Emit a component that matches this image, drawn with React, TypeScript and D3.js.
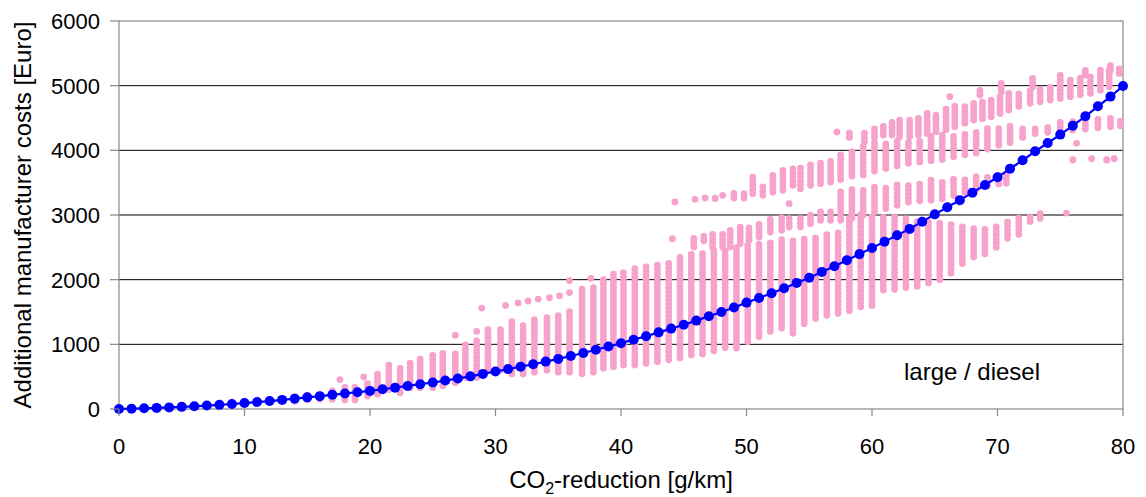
import * as d3 from 'd3';

// CO2 reduction [g/km] vs additional manufacturer costs [Euro], large / diesel
const X_TICKS = [0, 10, 20, 30, 40, 50, 60, 70, 80];
const Y_TICKS = [0, 1000, 2000, 3000, 4000, 5000, 6000];

// blue cost curve, one value per g/km from 0 to 80
const CURVE_COST = [
  0, 5, 11, 17, 25, 33, 42, 53, 64, 77,
  92, 107, 123, 141, 160, 180, 199, 219, 240, 260,
  280, 305, 330, 357, 384, 410, 440, 472, 505, 543,
  580, 617, 655, 692, 733, 775, 820, 866, 916, 966,
  1018, 1072, 1126, 1185, 1243, 1302, 1367, 1433, 1500, 1570,
  1645, 1717, 1790, 1868, 1950, 2030, 2120, 2208, 2300, 2395,
  2490, 2588, 2686, 2785, 2897, 3010, 3119, 3230, 3346, 3464,
  3583, 3717, 3846, 3985, 4113, 4243, 4382, 4526, 4681, 4831,
  4995,
];
const CURVE_REDUCTION = CURVE_COST.map((_, i) => i);

// pink cloud of single packages, read as vertical streaks: [reduction, low cost, high cost]
const STREAKS_LOW = [
  [14, 120, 200], [15, 140, 230], [16, 150, 260], [17, 150, 290], [17.6, 455, 455],
  [18, 140, 340], [18.8, 140, 370], [19.5, 495, 495], [19.8, 200, 400], [20.6, 230, 540],
  [21.5, 300, 690], [22.4, 250, 680], [23.2, 330, 730], [24, 330, 780], [25, 330, 830],
  [25.8, 360, 860], [26.8, 410, 885], [26.8, 1140, 1140], [27.6, 490, 1015], [28.5, 490, 1070],
  [28.5, 1200, 1200], [28.9, 1560, 1560], [29.4, 600, 1250], [30.4, 600, 1280], [30.8, 1600, 1600],
  [31.3, 540, 1380], [31.8, 1640, 1640], [32.2, 540, 1330], [32.6, 1670, 1670], [33.1, 570, 1430],
  [33.4, 1700, 1700], [34.1, 600, 1460], [34.3, 1720, 1720], [35, 570, 1490], [35.1, 1750, 1750],
  [35.9, 570, 1540], [35.9, 1800, 1800], [35.9, 1985, 1985], [36.9, 545, 1900], [37.8, 570, 1910],
  [37.6, 2020, 2020],
];

const STREAKS_DENSE = [
  [38.6, 630, 2050], [39.4, 655, 2110], [40.2, 680, 2150], [41.1, 680, 2180], [42.0, 706, 2220],
  [42.9, 732, 2260], [43.8, 760, 2300], [44.7, 790, 2350], [45.6, 835, 2390], [46.5, 850, 2430],
  [47.4, 900, 2450], [48.3, 950, 2480], [49.2, 940, 2510], [50.1, 1040, 2550], [51.0, 1120, 2580],
  [51.9, 1200, 2610], [52.8, 1250, 2630], [53.7, 1170, 2650], [54.6, 1320, 2670], [55.5, 1400, 2690],
  [56.4, 1450, 2710], [57.3, 1480, 2730],
  [58.2, 1520, 3000], [59.1, 1580, 3020], [60.0, 1600, 3000], [60.9, 1840, 2990], [61.8, 1850, 2980],
  [62.7, 1880, 2970], [63.6, 1900, 2950], [64.5, 1950, 2930], [65.4, 2000, 2900], [66.3, 2100, 2880],
  [67.2, 2250, 2850], [68.1, 2350, 2800], [69.0, 2400, 2800], [69.9, 2500, 2850], [70.8, 2640, 2900],
  [71.7, 2700, 2950], [72.6, 2900, 3000], [73.4, 2950, 3050], [75.5, 3030, 3030],
];

const STREAKS_MID = [
  [44.1, 2634, 2634], [45.8, 2505, 2660], [46.6, 2600, 2711], [47.3, 2505, 2737], [48.1, 2505, 2737],
  [48.7, 2505, 2814], [49.5, 2557, 2840], [50.2, 2608, 2840], [51.0, 2660, 2866], [51.9, 2737, 2943],
  [52.8, 2763, 2969], [53.4, 2814, 2969], [53.4, 3175, 3175], [54.3, 2814, 2995], [55.1, 2866, 3021],
  [55.9, 2918, 3046], [56.7, 2918, 3072], [57.5, 2918, 3390], [58.4, 2950, 3400], [59.3, 3000, 3430],
  [60.2, 3050, 3450], [61.1, 3100, 3470], [62.0, 3150, 3490], [62.9, 3200, 3500], [63.8, 3220, 3520],
  [64.7, 3230, 3540], [65.6, 3250, 3550], [66.5, 3300, 3570], [67.4, 3350, 3590], [68.3, 3400, 3600],
  [69.2, 3450, 3620], [70.1, 3480, 3640], [70.7, 3490, 3650],
];

const STREAKS_UPPER = [
  [44.3, 3201, 3201], [45.9, 3242, 3242], [46.7, 3263, 3263], [47.5, 3253, 3290], [48.1, 3304, 3304],
  [49.0, 3263, 3381], [49.8, 3263, 3330], [50.5, 3330, 3598], [51.3, 3304, 3459], [52.1, 3356, 3665],
  [52.9, 3381, 3691], [53.7, 3459, 3768], [54.3, 3407, 3768], [55.1, 3459, 3820], [55.9, 3484, 3845],
  [56.7, 3510, 3871], [57.5, 3550, 3950], [58.4, 3600, 4030], [59.3, 3620, 4100], [60.2, 3680, 4120],
  [61.1, 3720, 4140], [62.0, 3760, 4150], [62.9, 3800, 4160], [63.8, 3820, 4190], [64.7, 3840, 4220],
  [65.6, 3860, 4240], [66.5, 3900, 4270], [67.4, 3930, 4300], [68.3, 3960, 4320], [69.2, 4020, 4350],
  [70.1, 4080, 4380], [71.0, 4120, 4390], [72.0, 4200, 4380], [73.0, 4260, 4370], [74.0, 4280, 4400],
  [75.0, 4300, 4430], [76.0, 4314, 4443], [77.0, 4330, 4460], [78.0, 4350, 4480], [79.0, 4366, 4495],
  [79.8, 4380, 4500],
  [76.0, 3850, 3900], [76.3, 4108, 4108], [77.5, 3870, 3870], [78.7, 3850, 3900], [79.3, 3870, 3870],
];

const STREAKS_TOP = [
  [57.2, 4283, 4283], [58.2, 4200, 4290], [59.4, 4134, 4314], [60.2, 4200, 4340], [60.9, 4237, 4392],
  [61.6, 4237, 4443], [62.2, 4211, 4469], [63.0, 4211, 4520], [63.7, 4237, 4546], [64.4, 4260, 4570],
  [65.1, 4289, 4598], [65.9, 4320, 4640], [66.6, 4366, 4690], [66.2, 4830, 4830], [67.4, 4420, 4700],
  [68.1, 4469, 4727], [68.6, 4856, 4930], [68.8, 4490, 4770], [69.5, 4521, 4804], [70.2, 4570, 4840],
  [70.3, 4907, 5036], [70.9, 4624, 4881], [71.7, 4680, 4910], [72.6, 4727, 4933], [72.8, 4985, 5113],
  [73.4, 4750, 4970], [74.2, 4778, 5010], [75.0, 4800, 5060], [75.0, 5088, 5190], [75.8, 4830, 5113],
  [76.6, 4860, 5150], [77.0, 5165, 5242], [77.4, 4881, 5190], [78.2, 4930, 5240], [78.9, 4985, 5294],
  [79.0, 5240, 5320], [79.7, 5190, 5294],
];

const PINK = '#f6a2cc';
const BLUE = '#0000ff';
const AXIS_GREY = '#888888';
const FONT = '"Liberation Sans", Arial, Helvetica, sans-serif';

export default function App() {
  const width = 1146;
  const height = 497;
  const margin = { top: 21, right: 23, bottom: 88, left: 119 };
  const innerWidth = width - margin.left - margin.right;
  const innerHeight = height - margin.top - margin.bottom;

  const x = d3.scaleLinear().domain([0, 80]).range([0, innerWidth]);
  const y = d3.scaleLinear().domain([0, 6000]).range([innerHeight, 0]);

  const streaks = [
    ...STREAKS_LOW, ...STREAKS_DENSE, ...STREAKS_MID, ...STREAKS_UPPER, ...STREAKS_TOP,
  ];

  const line = d3.line<number>()
    .x((_, i) => x(CURVE_REDUCTION[i]))
    .y(d => y(d));

  return (
    <svg width={width} height={height}
      style={{ position: 'absolute', left: 0, top: 0, background: '#fff' }}
      fontFamily={FONT}>
      <g transform={`translate(${margin.left},${margin.top})`}>
        {Y_TICKS.filter(t => t > 0 && t < 6000).map(t => (
          <line key={t} x1={0} x2={innerWidth} y1={y(t)} y2={y(t)} stroke="#000" strokeWidth={1} />
        ))}
        <rect x={0} y={0} width={innerWidth} height={innerHeight} fill="none" stroke={AXIS_GREY} strokeWidth={1.2} />

        {/* beaded streaks of single points */}
        {streaks.map((s, i) => (
          <line key={i}
            x1={x(s[0])} x2={x(s[0])}
            y1={y(s[1])} y2={y(s[2]) - 0.01}
            stroke={PINK} strokeWidth={6.8}
            strokeLinecap="round"
            strokeDasharray="0.5 3.5" />
        ))}

        <path d={line(CURVE_COST) || ''} fill="none" stroke={BLUE} strokeWidth={2.2} />
        {CURVE_COST.map((v, i) => (
          <circle key={i} cx={x(CURVE_REDUCTION[i])} cy={y(v)} r={5} fill={BLUE} />
        ))}

        {/* y axis */}
        {Y_TICKS.map(t => (
          <g key={t} transform={`translate(0,${y(t)})`}>
            <line x1={-9} x2={0} stroke={AXIS_GREY} strokeWidth={1.2} />
            <text x={-19} dy="0.36em" textAnchor="end" fontSize={22} fill="#000">{t}</text>
          </g>
        ))}
        {/* x axis */}
        {X_TICKS.map(t => (
          <g key={t} transform={`translate(${x(t)},${innerHeight})`}>
            <line y1={0} y2={7} stroke={AXIS_GREY} strokeWidth={1.2} />
            <text y={45} textAnchor="middle" fontSize={22} fill="#000">{t}</text>
          </g>
        ))}

        <text x={853} y={359} textAnchor="middle" fontSize={24} fill="#000">large / diesel</text>

        <text x={innerWidth / 2} y={467} textAnchor="middle" fontSize={24} fill="#000">
          CO<tspan fontSize={16} dy={6}>2</tspan><tspan dy={-6}>-reduction [g/km]</tspan>
        </text>

        <text transform={`translate(${31 - margin.left},${innerHeight / 2}) rotate(-90)`}
          textAnchor="middle" fontSize={24} fill="#000">
          Additional manufacturer costs [Euro]
        </text>
      </g>
    </svg>
  );
}
